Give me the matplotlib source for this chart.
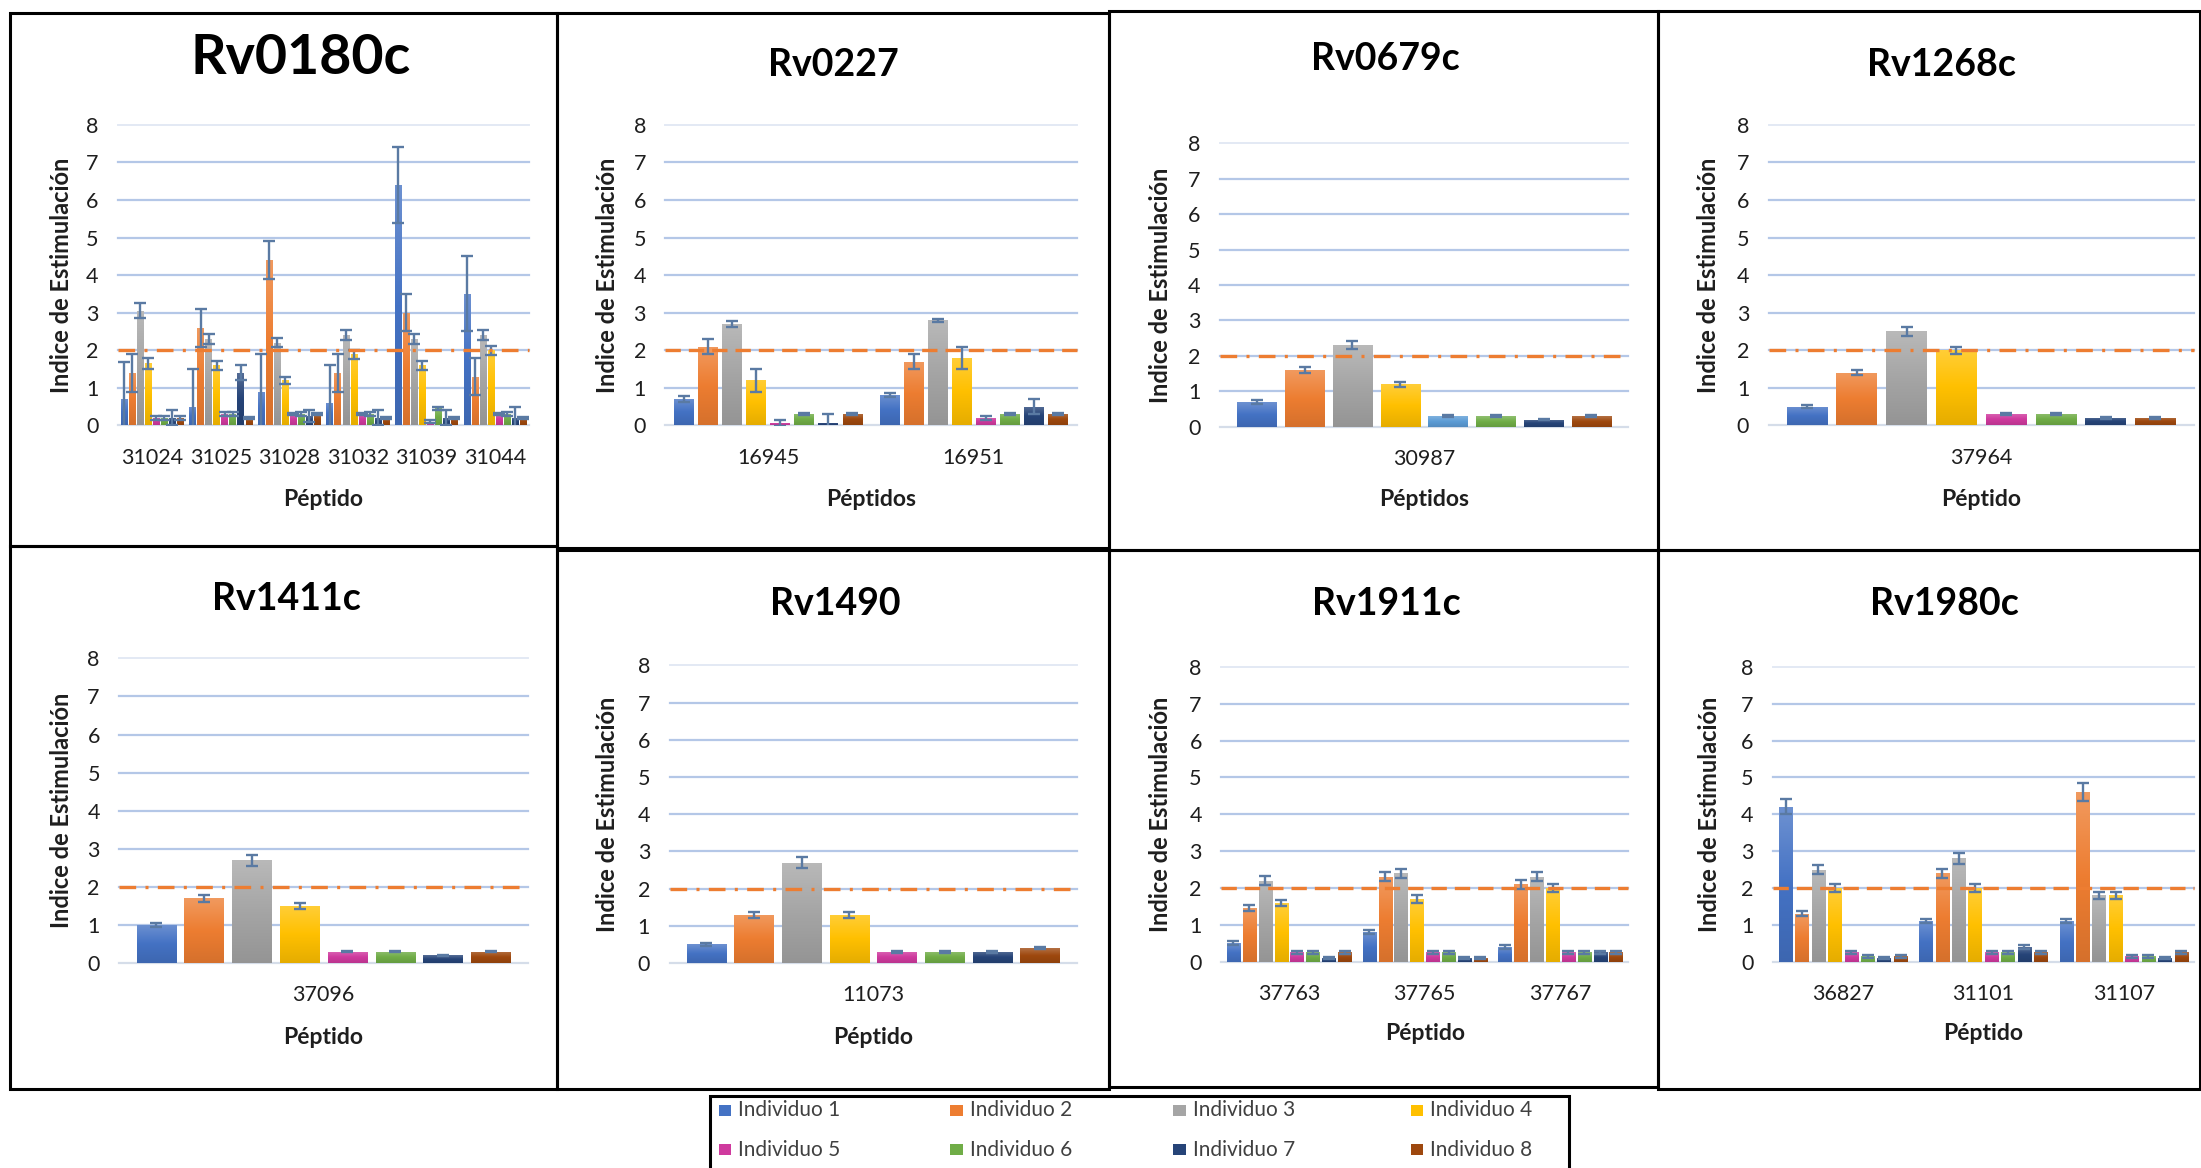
import matplotlib
matplotlib.use('Agg')
import matplotlib.pyplot as plt
import numpy as np
from matplotlib.patches import Rectangle
from matplotlib.colors import LinearSegmentedColormap, to_rgb

plt.rcParams['font.family'] = ['Lato', 'DejaVu Sans']

DW, DH = 1568.0, 832.0   # layout measured on a 1568x832 view


def fx(x):
    return x / DW


def fy(y):
    return 1 - y / DH


individuals = ['Individuo 1', 'Individuo 2', 'Individuo 3', 'Individuo 4',
               'Individuo 5', 'Individuo 6', 'Individuo 7', 'Individuo 8']
colors = ['#4472c4', '#ed7d31', '#a5a5a5', '#ffc000',
          '#cf3a9e', '#70ad47', '#264478', '#9e480e']
colors_rv0679c = ['#4472c4', '#ed7d31', '#a5a5a5', '#ffc000',
                  '#5b9bd5', '#70ad47', '#264478', '#9e480e']

# ---------------- data (rows = peptide, columns = Individuo 1..8) ----------------
rv0180c_peptides = ['31024', '31025', '31028', '31032', '31039', '31044']
rv0180c_values = [[0.7, 1.4, 3.05, 1.65, 0.2, 0.2, 0.2, 0.2],
                  [0.5, 2.6, 2.3, 1.6, 0.3, 0.3, 1.4, 0.2],
                  [0.9, 4.4, 2.2, 1.2, 0.3, 0.3, 0.25, 0.3],
                  [0.6, 1.4, 2.4, 1.9, 0.3, 0.3, 0.2, 0.2],
                  [6.4, 3.0, 2.3, 1.6, 0.1, 0.45, 0.2, 0.2],
                  [3.5, 1.3, 2.4, 2.0, 0.3, 0.3, 0.2, 0.2]]
rv0180c_errors = [[1.0, 0.5, 0.2, 0.15, 0.05, 0.05, 0.2, 0.05],
                  [1.0, 0.5, 0.13, 0.12, 0.05, 0.05, 0.2, 0.03],
                  [1.0, 0.5, 0.12, 0.1, 0.03, 0.05, 0.15, 0.03],
                  [1.0, 0.5, 0.13, 0.12, 0.03, 0.05, 0.2, 0.03],
                  [1.0, 0.5, 0.13, 0.12, 0.05, 0.05, 0.2, 0.03],
                  [1.0, 0.5, 0.13, 0.12, 0.03, 0.05, 0.3, 0.03]]

rv0227_peptides = ['16945', '16951']
rv0227_values = [[0.7, 2.1, 2.7, 1.2, 0.07, 0.3, 0.07, 0.3],
                 [0.8, 1.7, 2.8, 1.8, 0.2, 0.3, 0.5, 0.3]]
rv0227_errors = [[0.08, 0.2, 0.08, 0.3, 0.08, 0.02, 0.23, 0.02],
                 [0.05, 0.2, 0.04, 0.3, 0.05, 0.02, 0.2, 0.03]]

rv0679c_peptides = ['30987']
rv0679c_values = [[0.7, 1.6, 2.3, 1.2, 0.3, 0.3, 0.2, 0.3]]
rv0679c_errors = [[0.05, 0.08, 0.12, 0.07, 0.02, 0.02, 0.02, 0.02]]

rv1268c_peptides = ['37964']
rv1268c_values = [[0.5, 1.4, 2.5, 2.0, 0.3, 0.3, 0.2, 0.2]]
rv1268c_errors = [[0.05, 0.07, 0.13, 0.1, 0.02, 0.02, 0.02, 0.02]]

rv1411c_peptides = ['37096']
rv1411c_values = [[1.0, 1.7, 2.7, 1.5, 0.3, 0.3, 0.2, 0.3]]
rv1411c_errors = [[0.06, 0.09, 0.15, 0.08, 0.02, 0.02, 0.02, 0.02]]

rv1490_peptides = ['11073']
rv1490_values = [[0.5, 1.3, 2.7, 1.3, 0.3, 0.3, 0.3, 0.4]]
rv1490_errors = [[0.04, 0.08, 0.14, 0.08, 0.03, 0.03, 0.03, 0.03]]

rv1911c_peptides = ['37763', '37765', '37767']
rv1911c_values = [[0.5, 1.45, 2.2, 1.6, 0.25, 0.25, 0.1, 0.25],
                  [0.8, 2.3, 2.4, 1.7, 0.25, 0.25, 0.1, 0.1],
                  [0.4, 2.1, 2.3, 2.0, 0.25, 0.25, 0.25, 0.25]]
rv1911c_errors = [[0.05, 0.08, 0.12, 0.08, 0.05, 0.05, 0.03, 0.05],
                  [0.05, 0.12, 0.12, 0.1, 0.05, 0.05, 0.03, 0.03],
                  [0.05, 0.12, 0.12, 0.1, 0.05, 0.05, 0.05, 0.05]]

rv1980c_peptides = ['36827', '31101', '31107']
rv1980c_values = [[4.2, 1.3, 2.5, 2.0, 0.25, 0.15, 0.1, 0.15],
                  [1.1, 2.4, 2.8, 2.0, 0.25, 0.25, 0.4, 0.25],
                  [1.1, 4.6, 1.8, 1.8, 0.15, 0.15, 0.1, 0.25]]
rv1980c_errors = [[0.2, 0.07, 0.12, 0.1, 0.05, 0.04, 0.03, 0.04],
                  [0.05, 0.12, 0.15, 0.1, 0.05, 0.05, 0.05, 0.05],
                  [0.05, 0.25, 0.1, 0.1, 0.04, 0.04, 0.03, 0.05]]

threshold = 2
y_ticks = [0, 1, 2, 3, 4, 5, 6, 7, 8]

# ---------------- figure ----------------
fig = plt.figure(figsize=(22.01, 11.68), dpi=100)
fig.patch.set_facecolor('white')

GRID = '#b4c7e7'
ERR = '#5a7aa3'
TXT = '#1e1e1e'
GRAD = np.linspace(0, 1, 64).reshape(-1, 1)


def gradient_cmap(color):
    c = np.array(to_rgb(color))
    bottom = c * 0.9
    top = c + (1 - c) * 0.22
    return LinearSegmentedColormap.from_list('g', [bottom, c, top])


def panel(ax_box, title, title_xy, title_size, peptides, values, errors,
          xlabel, xlabel_y, ylabel_x, pal, dashes):
    x0, x1, y0, y8 = ax_box
    ax = fig.add_axes([fx(x0), fy(y0), (x1 - x0) / DW, (y0 - y8) / DH])
    vals = np.array(values, dtype=float)
    errs = np.array(errors, dtype=float)
    n = len(peptides)
    pos = np.arange(n)
    slot, bw = 0.117, 0.096
    for i in range(8):
        xi = pos + (i - 3.5) * slot
        bars = ax.bar(xi, vals[:, i], width=bw, color=pal[i], zorder=3,
                      label=individuals[i])
        cm = gradient_cmap(pal[i])
        for b in bars:
            bx, by = b.get_x(), b.get_y()
            im = ax.imshow(GRAD, extent=(bx, bx + b.get_width(), by,
                                         by + b.get_height()),
                           origin='lower', aspect='auto', cmap=cm, zorder=3.1,
                           interpolation='bilinear')
            im.set_clip_path(b)
        ax.errorbar(xi, vals[:, i], yerr=errs[:, i], fmt='none', ecolor=ERR,
                    elinewidth=1.7, capsize=4.5, capthick=1.7, zorder=4)
    for t in y_ticks:
        if t == 0:
            c, lw = '#d5dde9', 1.6
        elif t == 8:
            c, lw = '#e3e9f4', 1.4
        else:
            c, lw = GRID, 1.6
        ax.axhline(t, color=c, lw=lw, zorder=1, clip_on=False)
    ax.axhline(threshold, color='#ed7d31', lw=2.4, dashes=dashes, zorder=5,
               clip_on=False)
    ax.set_xlim(-0.5, n - 0.5)
    ax.set_ylim(0, 8)
    ax.set_yticks(y_ticks)
    ax.set_xticks(pos)
    ax.set_xticklabels(peptides)
    ax.tick_params(axis='both', length=0, labelsize=15.5, labelcolor=TXT)
    ax.tick_params(axis='y', pad=14)
    ax.tick_params(axis='x', pad=16)
    for s in ax.spines.values():
        s.set_visible(False)
    ax.set_facecolor('none')
    fig.text(fx(title_xy[0]), fy(title_xy[1]), title, ha='center', va='center',
             fontsize=title_size, fontweight='bold', color='black')
    fig.text(fx((x0 + x1) / 2), fy(xlabel_y), xlabel, ha='center', va='center',
             fontsize=16.5, fontweight='bold', color=TXT)
    fig.text(fx(ylabel_x), fy((y0 + y8) / 2), 'Indice de Estimulación',
             ha='center', va='center', rotation=90, fontsize=17,
             fontweight='bold', color=TXT)
    return ax


DD = (5.0, 2.8, 0.9, 2.8)   # long dash - dot
DA = (4.6, 2.4)             # dashes

panel((84, 377, 303, 89), 'Rv0180c', (214, 41), 40, rv0180c_peptides,
      rv0180c_values, rv0180c_errors, 'Péptido', 356, 44, colors, DD)
panel((474, 767, 303, 89), 'Rv0227', (594, 46), 27, rv0227_peptides,
      rv0227_values, rv0227_errors, 'Péptidos', 356, 433, colors, DA)
panel((869, 1160, 304, 102), 'Rv0679c', (987, 42), 27, rv0679c_peptides,
      rv0679c_values, rv0679c_errors, 'Péptidos', 356, 827, colors_rv0679c, DD)
panel((1260, 1563, 303, 89), 'Rv1268c', (1383, 46), 27, rv1268c_peptides,
      rv1268c_values, rv1268c_errors, 'Péptido', 356, 1217, colors, DD)
panel((85, 376, 686, 469), 'Rv1411c', (204, 427), 27, rv1411c_peptides,
      rv1411c_values, rv1411c_errors, 'Péptido', 739, 44, colors, DD)
panel((477, 767, 686, 474), 'Rv1490', (595, 430), 27, rv1490_peptides,
      rv1490_values, rv1490_errors, 'Péptido', 739, 433, colors, DD)
panel((870, 1160, 685, 475), 'Rv1911c', (988, 430), 27, rv1911c_peptides,
      rv1911c_values, rv1911c_errors, 'Péptido', 736, 827, colors, DA)
panel((1263, 1563, 685, 475), 'Rv1980c', (1385, 430), 27, rv1980c_peptides,
      rv1980c_values, rv1980c_errors, 'Péptido', 736, 1218, colors, DA)

# ---------------- panel frames ----------------
boxes = [(7, 9, 397, 389), (397, 9, 790, 390), (790, 8, 1181, 392),
         (1181, 8, 1567, 392),
         (7, 389, 397, 776), (397, 392, 790, 776), (790, 392, 1181, 774),
         (1181, 392, 1567, 776)]
for (a, b, c, d) in boxes:
    fig.add_artist(Rectangle((fx(a), fy(d)), (c - a) / DW, (d - b) / DH,
                             transform=fig.transFigure, fill=False,
                             ec='black', lw=2.2, zorder=10))

# ---------------- legend ----------------
fig.add_artist(Rectangle((fx(506), fy(840)), (1118 - 506) / DW, (840 - 781) / DH,
                         transform=fig.transFigure, fill=False, ec='black',
                         lw=2.2, zorder=10))
leg_x = [512, 677, 836, 1005]
leg_y = [791, 819]
for k in range(8):
    r, c = divmod(k, 4)
    sx, sy = leg_x[c], leg_y[r]
    fig.add_artist(Rectangle((fx(sx), fy(sy + 4)), 9 / DW, 8 / DH,
                             transform=fig.transFigure, fc=colors[k],
                             ec='none', zorder=11))
    fig.text(fx(sx + 14), fy(sy), individuals[k], ha='left', va='center',
             fontsize=15, color='#404040')

fig.savefig('out.png', dpi=100, facecolor='white')
